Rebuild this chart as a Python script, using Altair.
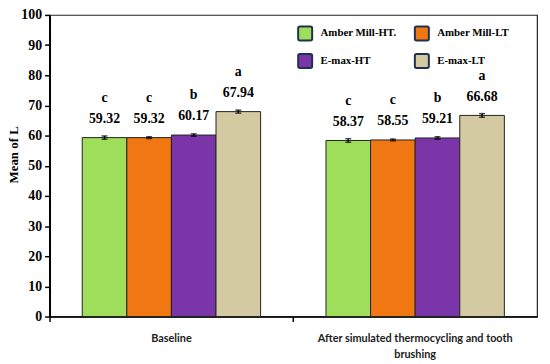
import altair as alt
import pandas as pd

periods = ["Baseline", "After simulated thermocycling and tooth brushing"]
materials = ["Amber Mill-HT.", "Amber Mill-LT", "E-max-HT", "E-max-LT"]
colors = ["#9FDE5A", "#F07712", "#7A36A9", "#D4CAA2"]
means = [[59.32, 59.32, 60.17, 67.94], [58.37, 58.55, 59.21, 66.68]]
errors = [[0.55, 0.3, 0.4, 0.5], [0.6, 0.3, 0.4, 0.6]]
letters = [["c", "c", "b", "a"], ["c", "c", "b", "a"]]
y_ticks = [0, 10, 20, 30, 40, 50, 60, 70, 80, 90, 100]

rows = []
for pi, p in enumerate(periods):
    for mi, m in enumerate(materials):
        v = means[pi][mi]
        e = errors[pi][mi]
        rows.append({"period": p, "material": m, "mean": v, "lo": v - e, "hi": v + e,
                     "label": f"{v:.2f}", "letter": letters[pi][mi]})
df = pd.DataFrame(rows)

serif = "Liberation Serif"
rounded = "M -0.75,-1 L 0.75,-1 Q 1,-1 1,-0.75 L 1,0.75 Q 1,1 0.75,1 L -0.75,1 Q -1,1 -1,0.75 L -1,-0.75 Q -1,-1 -0.75,-1 Z"

x_axis = alt.Axis(bandPosition=0, labelAngle=0, labelLimit=400,
                  labelExpr="datum.label == 'Baseline' ? 'Baseline' : ['After simulated thermocycling and tooth', 'brushing']")
x = alt.X("period:N", sort=periods, title=None,
          scale=alt.Scale(paddingInner=0, paddingOuter=0), axis=x_axis)
xo = alt.XOffset("material:N", sort=materials,
                 scale=alt.Scale(paddingOuter=0.733, paddingInner=0))
y_axis = alt.Axis(values=y_ticks, grid=False, labelOverlap=False, title="Mean of L",
                  labelFont=serif, labelFontWeight="bold", labelFontSize=14)
yscale = alt.Scale(domain=[0, 100], nice=False)
y = alt.Y("mean:Q", title="Mean of L", scale=yscale, axis=y_axis)
ylo = alt.Y("lo:Q", title="Mean of L", scale=yscale, axis=y_axis)
yhi = alt.Y("hi:Q", title="Mean of L", scale=yscale, axis=y_axis)

color = alt.Color("material:N", sort=materials,
                  scale=alt.Scale(domain=materials, range=colors),
                  legend=alt.Legend(title=None, orient="none", legendX=250, legendY=10,
                                    columns=2, columnPadding=14, rowPadding=5,
                                    symbolType=rounded, symbolSize=200, symbolStrokeColor="#1F3050",
                                    symbolStrokeWidth=2, symbolOpacity=1,
                                    labelFont=serif, labelFontWeight="bold", labelFontSize=11,
                                    labelColor="black", labelOffset=7, direction="horizontal"))

base = alt.Chart(df)
bars = base.mark_bar(stroke="#222", strokeWidth=1, opacity=1).encode(x=x, xOffset=xo, y=y, color=color)
rule = base.mark_rule(color="black", strokeWidth=1.5).encode(x=x, xOffset=xo, y=ylo, y2="hi:Q")
cap_lo = base.mark_tick(color="black", thickness=1.5, size=6, orient="horizontal").encode(x=x, xOffset=xo, y=ylo)
cap_hi = base.mark_tick(color="black", thickness=1.5, size=6, orient="horizontal").encode(x=x, xOffset=xo, y=yhi)
vals = base.mark_text(font=serif, fontWeight="bold", fontSize=14, color="black", dy=-19,
                      baseline="middle").encode(x=x, xOffset=xo, y=y, text="label:N")
lets = base.mark_text(font=serif, fontWeight="bold", fontSize=14, color="black", dy=-40,
                      baseline="middle").encode(x=x, xOffset=xo, y=y, text="letter:N")

chart = alt.layer(bars, rule, cap_lo, cap_hi, vals, lets).properties(
    width=493, height=305,
    background="white",
    autosize=alt.AutoSizeParams(type="none"),
    padding={"left": 42, "top": 5, "right": 5, "bottom": 46},
).configure_view(
    stroke="#222", strokeWidth=1.2
).configure_axisX(
    labelFont="Lato", labelFontWeight="bold", labelFontSize=11, labelColor="#222",
    labelPadding=11, labelLineHeight=16, labelBaseline="top",
    domainColor="black", domainWidth=1.5, tickColor="black", tickSize=5, tickWidth=1.5
).configure_axisY(
    labelFont=serif, labelFontWeight="bold", labelFontSize=14, labelColor="black",
    titleFont=serif, titleFontWeight="bold", titleFontSize=13, titleColor="black",
    titlePadding=0, titleY=141, domainColor="black", domainWidth=2, tickColor="black",
    tickSize=5, tickWidth=1.5, labelPadding=3
)

chart.save("out.html", embed_options={"renderer": "svg", "actions": False})
